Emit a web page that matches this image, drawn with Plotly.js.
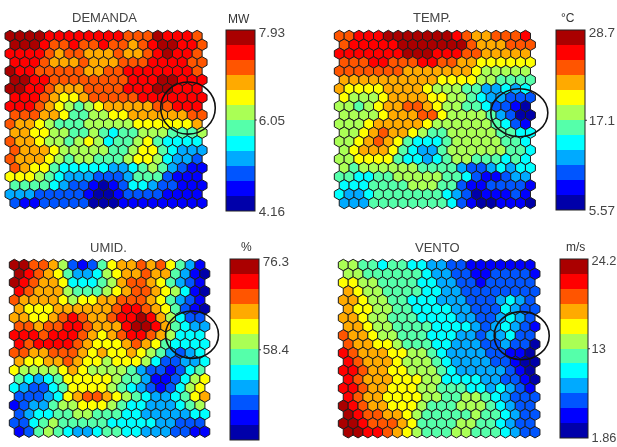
<!DOCTYPE html>
<html><head><meta charset="utf-8">
<script src="https://cdn.plot.ly/plotly-3.0.1.min.js"></script>
<style>html,body{margin:0;padding:0;background:#fff}#c{width:617px;height:447px;filter:blur(0.3px)}</style>
</head><body><div id="c"></div>
<script>
// Colour band (1 = lowest .. 12 = highest) read for each map unit, top row first
const demandaBands = [
[12,12,12,12,11,11,11,11,11,11,11,11,10,10,10,12,11,11,11,10],
[12,12,12,11,10,10,11,10,10,11,10,10,9,10,11,12,12,11,11,10],
[11,11,11,11,10,9,10,10,9,9,9,10,9,9,10,11,12,11,11,10],
[11,11,11,10,9,9,9,10,9,9,9,10,10,10,11,11,11,11,10,10],
[12,11,11,10,10,10,10,10,9,9,10,10,11,11,11,11,11,11,11,10],
[12,12,11,11,10,10,10,10,10,10,10,10,11,11,11,12,12,11,11,11],
[12,12,11,11,10,9,9,9,10,10,10,10,11,11,11,12,12,11,11,11],
[11,11,11,10,9,8,8,9,10,10,10,10,10,11,11,11,11,11,11,11],
[11,11,11,10,9,8,7,6,7,8,9,9,9,9,9,10,10,11,11,11],
[10,10,10,9,9,8,6,6,7,7,8,8,9,9,9,9,9,9,10,10],
[10,9,9,8,7,6,6,6,7,7,7,7,7,8,8,8,8,8,8,9],
[9,9,8,8,7,7,6,6,7,6,5,6,6,7,7,7,6,6,6,7],
[10,9,9,8,7,7,6,7,8,7,5,6,6,7,8,6,5,5,5,5],
[10,9,9,9,8,7,7,7,7,7,6,6,7,8,8,6,5,4,4,4],
[10,9,9,9,8,7,6,7,7,6,6,6,7,8,8,7,5,4,4,3],
[10,9,8,8,6,5,5,5,5,5,4,4,5,6,7,6,4,3,2,2],
[8,8,8,7,6,5,4,4,4,3,3,3,4,6,6,6,3,2,2,2],
[6,6,6,6,5,4,3,3,2,1,2,3,5,5,4,3,3,2,2,2],
[4,4,4,3,3,3,3,3,2,1,1,2,3,3,3,3,2,2,2,2],
[3,2,2,3,3,3,3,3,1,1,1,2,2,2,2,2,2,2,2,2]];
const tempBands = [
[10,10,11,11,11,12,12,12,12,12,12,12,11,10,9,9,10,10,10,11],
[10,11,11,11,11,11,12,12,12,12,12,12,12,10,9,9,9,10,10,10],
[11,11,11,11,11,11,11,12,12,12,11,11,11,10,10,9,9,9,9,9],
[10,10,10,11,11,10,10,10,11,11,10,10,9,9,8,8,8,8,8,8],
[10,10,10,10,10,10,10,9,9,9,9,9,9,9,8,7,7,7,7,7],
[9,9,9,9,9,9,9,9,9,9,8,8,8,8,7,7,6,6,6,6],
[9,8,8,8,8,9,9,9,9,8,7,7,7,6,6,4,4,5,4,5],
[8,7,7,7,8,9,9,9,9,8,8,7,7,6,5,4,4,3,3,3],
[7,7,6,7,8,9,9,10,10,9,8,7,7,6,6,5,3,3,2,1],
[7,7,7,7,8,9,9,9,10,10,8,7,7,7,7,6,4,3,1,1],
[7,7,7,8,9,9,9,9,9,8,7,7,7,7,7,7,6,5,3,2],
[7,7,8,9,10,9,9,8,7,6,6,7,7,7,7,7,6,6,5,5],
[7,7,8,9,10,9,8,6,5,5,5,6,7,7,7,7,7,6,6,5],
[7,8,9,9,9,8,6,5,4,4,6,7,7,7,7,7,7,6,6,5],
[7,7,8,8,8,8,6,5,5,4,5,6,7,7,6,6,6,5,6,5],
[7,6,7,7,7,7,7,7,6,6,6,6,4,3,3,4,5,4,5,5],
[6,6,5,5,6,6,7,7,7,7,7,6,6,5,3,2,2,3,4,4],
[5,5,5,6,6,6,6,7,7,7,6,6,3,2,2,3,3,3,3,2],
[5,4,4,5,6,6,6,6,6,6,6,5,4,3,1,2,2,2,3,2],
[4,4,4,6,6,6,6,6,6,6,6,5,3,2,1,1,2,2,2,1]];
const umidBands = [
[12,12,10,10,9,7,3,2,3,6,8,9,9,10,9,10,8,6,4,2],
[12,11,10,9,8,6,4,4,5,7,8,9,9,10,9,9,6,4,2,1],
[12,11,10,9,9,8,5,5,5,6,7,9,10,10,9,8,6,4,3,2],
[11,10,9,9,9,7,6,6,6,7,8,9,10,10,9,8,7,5,2,1],
[10,9,9,9,9,8,7,8,8,9,9,10,10,10,9,8,6,4,3,2],
[9,8,8,8,9,9,9,9,9,9,10,11,11,10,9,8,6,3,2,1],
[9,9,8,8,9,10,11,10,9,9,10,11,11,12,11,9,7,5,3,3],
[10,10,9,10,10,11,11,10,9,9,9,11,12,12,11,9,6,5,4,4],
[11,11,11,10,11,11,11,10,9,8,9,10,11,11,10,9,7,5,5,5],
[11,10,11,11,11,11,10,9,8,8,8,9,10,9,8,6,5,5,5,5],
[10,10,9,9,10,10,10,9,8,9,8,8,9,8,7,6,4,3,4,5],
[9,8,8,9,9,10,9,8,8,7,8,8,8,7,5,3,3,4,4,5],
[8,7,7,7,7,8,9,8,7,7,7,7,6,4,3,3,2,3,5,6],
[6,5,4,5,6,8,8,8,8,8,7,6,6,4,2,2,3,5,7,8],
[5,4,3,3,5,6,8,8,8,8,7,6,5,4,3,2,3,5,7,8],
[3,3,3,4,5,8,9,10,10,9,8,7,6,5,4,4,5,6,8,9],
[2,3,4,4,6,7,7,8,8,8,7,6,5,5,4,4,4,5,6,7],
[3,4,5,5,6,6,7,7,6,6,6,5,5,4,4,4,4,4,5,5],
[3,3,5,6,7,6,6,6,6,6,5,5,5,5,5,4,4,3,3,3],
[2,3,6,7,6,5,4,4,5,6,6,5,5,4,4,4,3,3,2,2]];
const ventoBands = [
[7,7,6,6,5,6,6,5,5,4,4,3,3,2,2,2,2,2,2,2],
[7,7,6,6,6,6,6,6,5,4,4,3,3,2,2,3,3,3,3,2],
[8,8,7,7,6,6,6,6,5,5,4,4,3,3,2,3,3,3,3,3],
[9,8,7,7,6,6,6,6,5,5,4,4,3,3,3,3,3,3,3,3],
[9,9,8,7,7,6,6,5,5,5,4,4,4,3,3,3,4,5,4,3],
[9,8,8,7,7,6,6,5,5,5,5,4,4,3,3,3,5,4,3,3],
[9,9,8,7,7,6,6,6,5,5,5,5,4,4,3,3,4,5,4,3],
[9,9,8,7,7,6,6,6,6,5,5,5,5,4,3,4,5,4,3,2],
[10,9,9,8,7,7,6,6,6,5,5,5,4,4,3,4,4,5,3,3],
[10,9,9,8,8,7,6,6,6,5,5,4,4,4,3,3,4,3,3,1],
[11,10,9,9,9,8,8,7,7,6,5,4,4,4,4,3,3,2,2,1],
[11,10,9,9,9,8,7,7,7,6,5,4,4,4,4,3,3,2,1,1],
[11,11,10,9,9,8,8,7,7,7,6,5,4,4,4,4,4,3,2,1],
[11,10,9,9,9,8,8,8,7,7,5,5,5,5,4,4,3,3,2,1],
[11,11,10,9,9,8,8,8,7,7,6,6,6,5,5,4,5,4,3,2],
[11,10,9,9,8,8,8,8,7,7,6,6,7,7,6,5,4,3,3,3],
[12,11,10,9,9,8,8,8,7,6,6,6,7,7,7,6,5,4,3,3],
[12,11,10,10,9,9,8,7,6,6,6,6,6,7,6,6,5,4,3,3],
[12,12,11,10,10,10,9,8,6,6,6,6,7,7,6,6,5,4,3,3],
[12,12,11,11,10,9,8,7,6,6,6,7,7,6,6,6,5,4,3,3]];

const titles = ["DEMANDA","TEMP.","UMID.","VENTO"];
const units = ["MW","°C","%","m/s"];
const mins = [4.16,5.57,40.6,1.86];
const mids = [6.05,17.1,58.4,13];
const maxs = [7.93,28.7,76.3,24.2];
const bandColors = ["#0000aa","#0000ff","#0055ff","#00aaff","#00ffff","#55ffaa","#aaff55","#ffff00","#ffaa00","#ff5500","#ff0000","#aa0000"];
// Highlight ellipses in map-grid units: [col0,col1,row0,row1]
const circles = [[15.3,20.84,5.24,11.16],[15.46,21.28,6.0,11.46],[15.48,20.9,5.25,10.65],[15.35,20.95,5.3,10.76]];

const W=617,H=447;
// pixel layout of each panel: first column x, column pitch, first row y, row pitch
const grid = [{x0:10,dx:9.85,y0:36,dy:8.79},{x0:339.3,dx:9.8,y0:36,dy:8.79},{x0:14.3,dx:9.77,y0:265,dy:8.77},{x0:343.3,dx:9.83,y0:265,dy:8.8}];
const bars = [{x:225.7,y:30,len:180.5},{x:556,y:30,len:180},{x:230,y:259,len:181},{x:560,y:259,len:179}];
const labelSize = [13.5,13.5,13.5,12.8];
const titleX = [104,432,108,437], titleY=[17,17,247,247];
const unitX = [239,568,246,575], unitY=[19,18,247,247];
const fontFam="Liberation Sans, Arial, sans-serif";
const scale=[]; bandColors.forEach((c,i)=>{scale.push([i/12,c]);scale.push([(i+1)/12,c]);});
const allBands=[demandaBands,tempBands,umidBands,ventoBands];
const data=[],layout={width:W,height:H,margin:{l:0,r:0,t:0,b:0,autoexpand:false},paper_bgcolor:"#fff",plot_bgcolor:"rgba(0,0,0,0)",showlegend:false,shapes:[],annotations:[]};
const label=(x,y,text,size,color)=>({xref:"paper",yref:"paper",x:x/W,y:1-y/H,xanchor:"center",yanchor:"middle",showarrow:false,text,font:{family:fontFam,size,color}});
allBands.forEach((rows,k)=>{
  const xs=[],ys=[],vals=[];
  const span=maxs[k]-mins[k],step=span/12;
  rows.forEach((r,j)=>r.forEach((b,i)=>{xs.push(i+(j%2?0.5:0));ys.push(j);vals.push(mins[k]+(b-0.5)*step);}));
  const g=grid[k],s=k?String(k+1):"",b=bars[k];
  data.push({type:"scatter",mode:"markers",x:xs,y:ys,xaxis:"x"+s,yaxis:"y"+s,hoverinfo:"skip",cliponaxis:false,
    marker:{symbol:"hexagon",size:11.5,color:vals,cmin:mins[k],cmax:maxs[k],colorscale:scale,line:{color:"#1c1c1c",width:1},
      colorbar:{x:b.x/W,xanchor:"left",xpad:0,ypad:0,y:1-b.y/H,yanchor:"top",lenmode:"pixels",len:b.len,thicknessmode:"pixels",thickness:k==3?28:29,
        outlinecolor:"#222",outlinewidth:1,tickmode:"array",tickvals:[mins[k]+span*1e-4,mids[k],maxs[k]-span*0.01],ticktext:[String(mins[k]),String(mids[k]),String(maxs[k])],ticks:"",
        tickfont:{family:fontFam,size:labelSize[k],color:"#444"}}}});
  const xr=[-0.5,21.5],yr=[19.5,-0.5];
  layout["xaxis"+s]={visible:false,range:xr,anchor:"y"+s,domain:[(g.x0+xr[0]*g.dx)/W,(g.x0+xr[1]*g.dx)/W]};
  layout["yaxis"+s]={visible:false,range:yr,anchor:"x"+s,domain:[1-(g.y0+yr[0]*g.dy)/H,1-(g.y0+yr[1]*g.dy)/H]};
  const c=circles[k];
  layout.shapes.push({type:"circle",xref:"x"+s,yref:"y"+s,x0:c[0],x1:c[1],y0:c[2],y1:c[3],line:{color:"#111",width:1.6},layer:"above"});
  // small outward mark beside the middle colour-bar label
  const ty=b.y+b.len*(maxs[k]-mids[k])/span;
  const bw=k==3?28:29;
  layout.shapes.push({type:"line",xref:"paper",yref:"paper",x0:(b.x+bw)/W,x1:(b.x+bw+2)/W,y0:1-ty/H,y1:1-ty/H,line:{color:"#333",width:1}});
  layout.annotations.push(label(titleX[k],titleY[k],titles[k],13,"#444"));
  layout.annotations.push(label(unitX[k],unitY[k],units[k],12,"#333"));
});
Plotly.newPlot("c",data,layout,{staticPlot:true,displayModeBar:false});
</script></body></html>
